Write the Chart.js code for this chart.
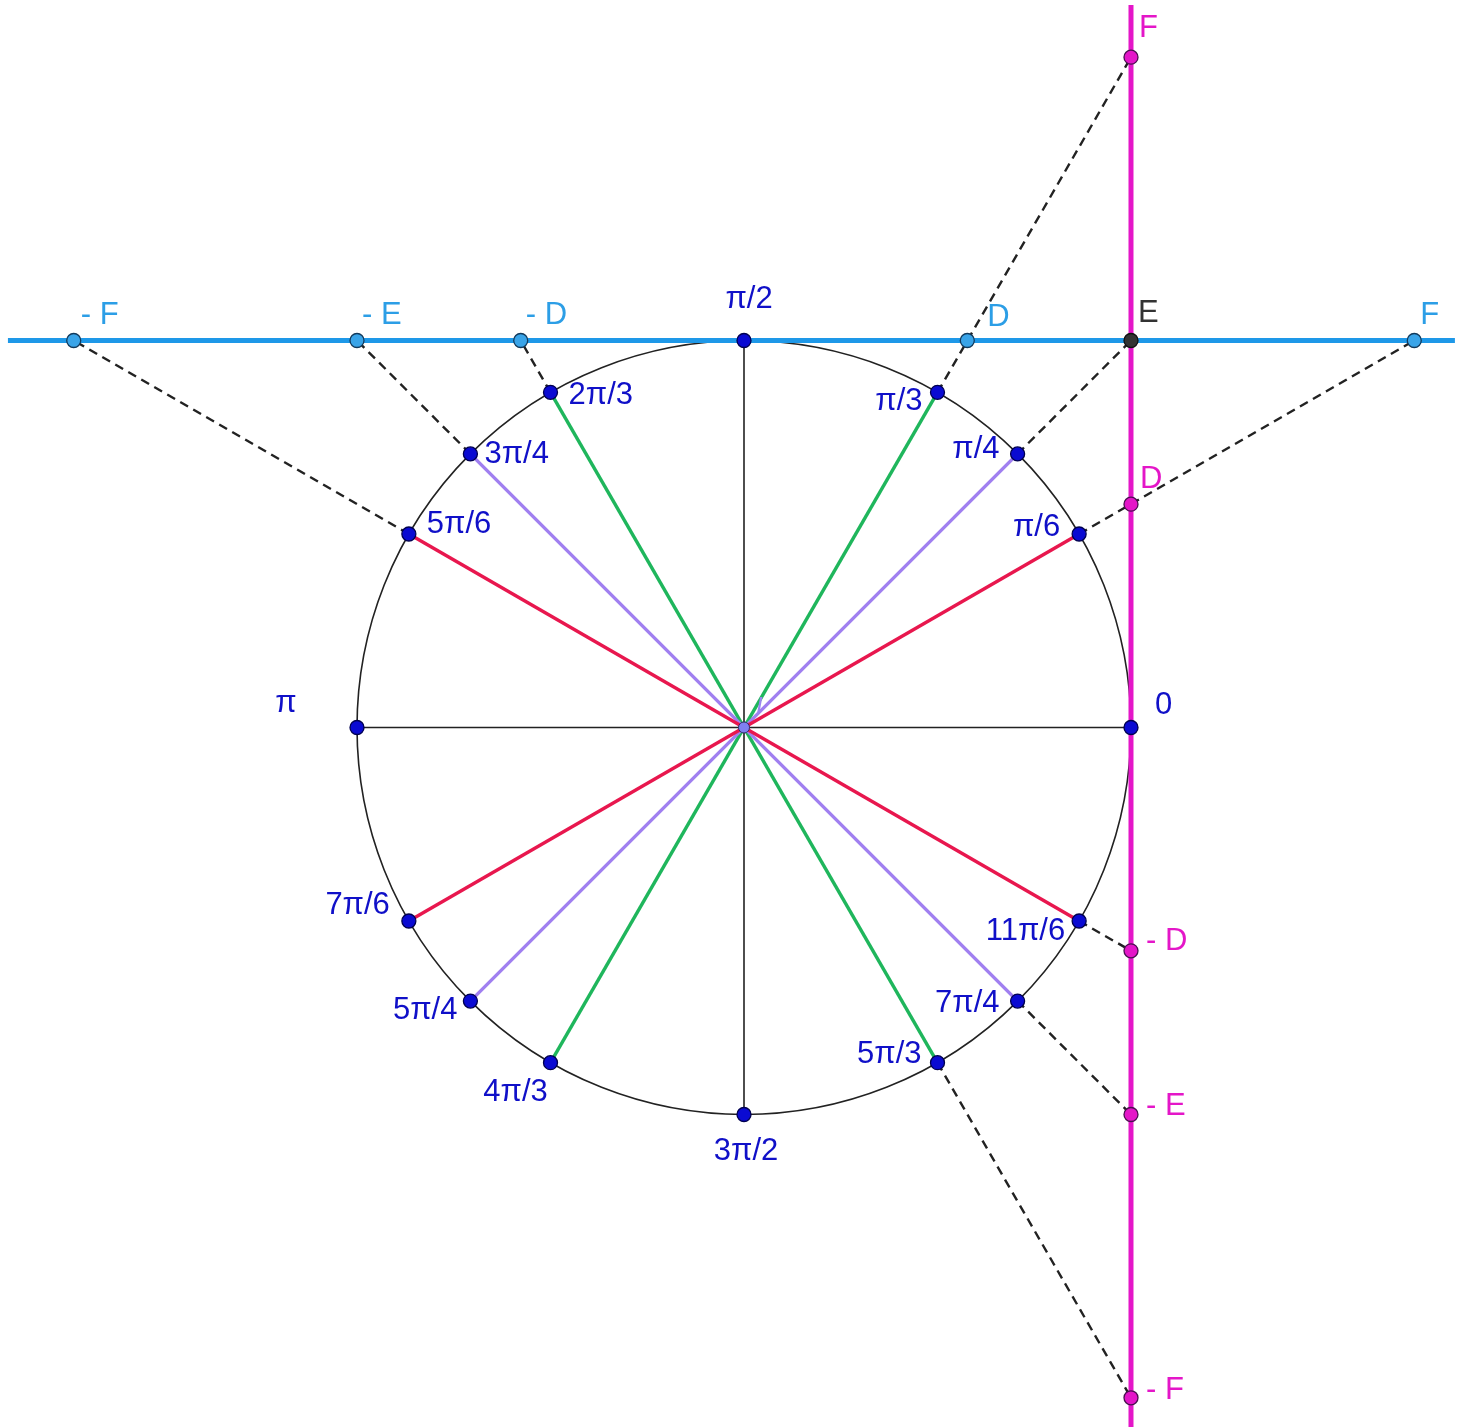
<!DOCTYPE html>
<html>
<head>
<meta charset="utf-8">
<script src="https://cdn.jsdelivr.net/npm/chart.js@4/dist/chart.umd.min.js"></script>
<style>
  html, body { margin: 0; padding: 0; background: #fff; }
  canvas { display: block; }
</style>
</head>
<body>
<canvas id="chart" width="1463" height="1427"></canvas>
<script>
// unit circle points
const angleLabels = ['0', 'π/6', 'π/4', 'π/3', 'π/2', '2π/3', '3π/4', '5π/6', 'π', '7π/6', '5π/4', '4π/3', '3π/2', '5π/3', '7π/4', '11π/6'];
const cosValues = [1, 0.866, 0.707, 0.5, 0, -0.5, -0.707, -0.866, -1, -0.866, -0.707, -0.5, 0, 0.5, 0.707, 0.866];
const sinValues = [0, 0.5, 0.707, 0.866, 1, 0.866, 0.707, 0.5, 0, -0.5, -0.707, -0.866, -1, -0.866, -0.707, -0.5];

// tangent line x = 1 (magenta) and cotangent line y = 1 (blue)
const tanLabels = ['F', 'D', '- D', '- E', '- F'];
const tanValues = [1.732, 0.577, -0.577, -1, -1.732];
const cotLabels = ['- F', '- E', '- D', 'D', 'F'];
const cotValues = [-1.732, -1, -0.577, 0.577, 1.732];
const sharedLabel = 'E';
const sharedPoint = [1, 1];
const tanLineY = [1.867, -1.81];
const cotLineX = [-1.902, 1.837];

// diameters (pairs of angle indexes)
const diameterPairs = [[0, 8], [4, 12], [1, 9], [7, 15], [2, 10], [6, 14], [3, 11], [5, 13]];
const diameterGroups = ['axis', 'axis', 'sixth', 'sixth', 'quarter', 'quarter', 'third', 'third'];

// dashed projections: circle point -> point on a line
const projFrom = [3, 2, 1, 5, 6, 7, 15, 14, 13];
const projToX = [1, 1, 1.732, -0.577, -1, -1.732, 1, 1, 1];
const projToY = [1.732, 1, 1, 1, 1, 1, -0.577, -1, -1.732];

// ---- styles ----
const groupColors = { axis: '#222222', sixth: '#e8174e', quarter: '#a07ff0', third: '#1fb65c' };
const groupWidths = { axis: 1.6, sixth: 3.4, quarter: 3.4, third: 3.4 };
const darkBlue = '#1010c8';
const lineBlue = '#1e98e8';
const labelBlue = '#2c9ee6';
const magenta = '#e416c8';
const FONT = '"Liberation Sans", Arial, sans-serif';

// label offsets in px [dx, dy, align]
const angleLabelPos = [
  [24, -22, 'left'], [-19, -7, 'right'], [-18, -4, 'right'], [-15, 9, 'right'],
  [5, -41, 'center'], [18, 3, 'left'], [14, 1, 'left'], [18, -10, 'left'],
  [-71, -24, 'center'], [-19, -16, 'right'], [-13, 9, 'right'], [-35, 30, 'center'],
  [2, 37, 'center'], [-16, -8, 'right'], [-18, 2, 'right'], [-14, 10, 'right']
];
const tanLabelPos = [[8, -29], [9, -25], [15, -9], [15, -8], [15, -7]];
const cotLabelPos = [[7, -25], [5, -25], [5, -25], [20, -23], [6, -25]];

const anglePoints = angleLabels.map((_, i) => ({ x: cosValues[i], y: sinValues[i] }));

const unitCircle = {
  id: 'unitCircle',
  beforeDatasetsDraw(chart) {
    const { ctx, scales: { x, y } } = chart;
    const cx = x.getPixelForValue(0), cy = y.getPixelForValue(0);
    const r = x.getPixelForValue(1) - cx;
    ctx.save();
    ctx.beginPath();
    ctx.arc(cx, cy, r, 0, Math.PI * 2);
    ctx.strokeStyle = '#222';
    ctx.lineWidth = 1.6;
    ctx.stroke();
    ctx.restore();
  }
};

function drawText(ctx, text, px, py, color, align) {
  ctx.fillStyle = color;
  ctx.textAlign = align || 'left';
  ctx.textBaseline = 'middle';
  ctx.fillText(text, px, py);
}

const pointLabels = {
  id: 'pointLabels',
  afterDatasetsDraw(chart) {
    const { ctx, scales: { x, y } } = chart;
    ctx.save();
    ctx.font = '31px ' + FONT;
    angleLabels.forEach((t, i) => {
      const p = angleLabelPos[i];
      drawText(ctx, t, x.getPixelForValue(cosValues[i]) + p[0], y.getPixelForValue(sinValues[i]) + p[1], darkBlue, p[2]);
    });
    tanLabels.forEach((t, i) => {
      const p = tanLabelPos[i];
      drawText(ctx, t, x.getPixelForValue(1) + p[0], y.getPixelForValue(tanValues[i]) + p[1], magenta);
    });
    cotLabels.forEach((t, i) => {
      const p = cotLabelPos[i];
      drawText(ctx, t, x.getPixelForValue(cotValues[i]) + p[0], y.getPixelForValue(1) + p[1], labelBlue);
    });
    drawText(ctx, sharedLabel, x.getPixelForValue(sharedPoint[0]) + 7, y.getPixelForValue(sharedPoint[1]) - 27, '#333');
    ctx.font = 'italic 24px ' + FONT;
    drawText(ctx, 'I', x.getPixelForValue(0) + 12, y.getPixelForValue(0) - 20, '#9a86f0');
    ctx.restore();
  }
};

const segment = (a, b, color, width, dash) => ({
  data: [a, b],
  showLine: true,
  borderColor: color,
  borderWidth: width,
  borderDash: dash || [],
  pointRadius: 0,
  fill: false
});

const datasets = [];

// points on top
datasets.push({
  data: anglePoints,
  pointRadius: 7,
  pointBackgroundColor: '#0a0ad2',
  pointBorderColor: '#000050',
  pointBorderWidth: 1.3,
  showLine: false
});
datasets.push({
  data: [{ x: 0, y: 0 }],
  pointRadius: 5.5,
  pointBackgroundColor: '#7f7ff2',
  pointBorderColor: '#30306a',
  pointBorderWidth: 1,
  showLine: false
});
datasets.push({
  data: [{ x: sharedPoint[0], y: sharedPoint[1] }],
  pointRadius: 7,
  pointBackgroundColor: '#333',
  pointBorderColor: '#111',
  pointBorderWidth: 1.3,
  showLine: false
});
datasets.push({
  data: tanValues.map(v => ({ x: 1, y: v })),
  pointRadius: 7,
  pointBackgroundColor: magenta,
  pointBorderColor: '#4a1050',
  pointBorderWidth: 1.3,
  showLine: false
});
datasets.push({
  data: cotValues.map(v => ({ x: v, y: 1 })),
  pointRadius: 7,
  pointBackgroundColor: '#3aa4e8',
  pointBorderColor: '#123a5c',
  pointBorderWidth: 1.3,
  showLine: false
});

// dashed projections
projFrom.forEach((k, i) => {
  datasets.push(segment(anglePoints[k], { x: projToX[i], y: projToY[i] }, '#222', 2.4, [9, 6]));
});

// diameters
diameterPairs.forEach((pair, i) => {
  const g = diameterGroups[i];
  datasets.push(segment(anglePoints[pair[0]], anglePoints[pair[1]], groupColors[g], groupWidths[g]));
});

// tangent and cotangent lines
datasets.push(segment({ x: 1, y: tanLineY[0] }, { x: 1, y: tanLineY[1] }, magenta, 5));
datasets.push(segment({ x: cotLineX[0], y: 1 }, { x: cotLineX[1], y: 1 }, lineBlue, 5));

new Chart(document.getElementById('chart'), {
  type: 'scatter',
  data: { datasets },
  options: {
    responsive: false,
    animation: false,
    events: [],
    layout: { padding: 0, autoPadding: false },
    plugins: { legend: { display: false }, tooltip: { enabled: false } },
    scales: {
      x: { type: 'linear', display: false, min: -1.9225, max: 1.8579 },
      y: { type: 'linear', display: false, min: -1.8075, max: 1.8798 }
    }
  },
  plugins: [unitCircle, pointLabels]
});
</script>
</body>
</html>
